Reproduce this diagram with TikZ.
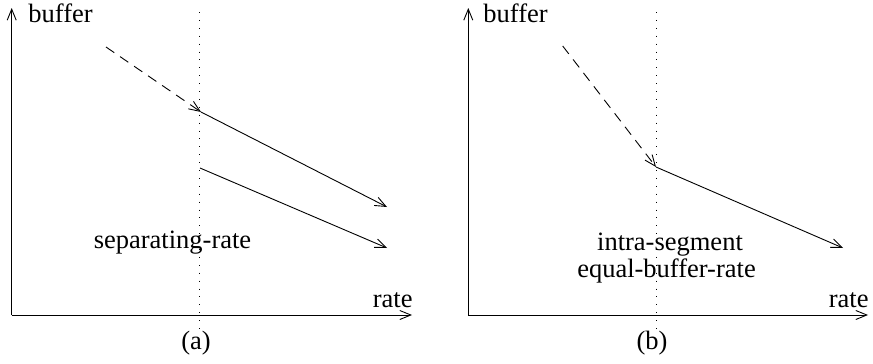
\documentclass[tikz,border=0pt]{standalone}
\usepackage{fontspec}
\setmainfont{Liberation Serif}
\usetikzlibrary{arrows.meta}
\tikzset{
  axis/.style={->},
  guide/.style={dash pattern=on 0.9pt off 7pt},
  prev/.style={->,dash pattern=on 10pt off 7pt},
  seg/.style={->},
  lab/.style={inner sep=0pt,anchor=base}
}
\begin{document}
\begin{tikzpicture}[x=1pt,y=-1pt,line width=0.9pt,
  >={Straight Barb[length=11pt,width=9pt]},
  font=\fontsize{26.5}{30}\selectfont]
  \useasboundingbox (0,0) rectangle (873,364);
  % (a) separating-rate
  \coordinate (oA) at (11.7,315);
  \coordinate (yA) at (11.7,8);
  \coordinate (xA) at (412,315);
  \draw[axis] (oA) -- (yA);
  \draw[axis] (oA) -- (xA);
  \coordinate (gA1) at (199.5,12);
  \coordinate (gA2) at (199.5,330);
  \draw[guide] (gA1) -- (gA2);
  \coordinate (dA) at (106,47);
  \coordinate (kA) at (201,112);
  \coordinate (eA1) at (387,207);
  \coordinate (sA) at (200,168);
  \coordinate (eA2) at (387,248);
  \draw[prev] (dA) -- (kA);
  \draw[seg] (kA) -- (eA1);
  \draw[seg] (sA) -- (eA2);
  \node[lab,anchor=base west] (bufA) at (28,22) {buffer};
  \node[lab,anchor=base east] (rateA) at (413,307) {rate};
  \node[lab] (sepA) at (172.5,248) {separating-rate};
  \node[lab] (capA) at (196,349) {(a)};
  % (b) intra-segment equal-buffer-rate
  \coordinate (oB) at (468.3,315);
  \coordinate (yB) at (468.3,8);
  \coordinate (xB) at (868,315);
  \draw[axis] (oB) -- (yB);
  \draw[axis] (oB) -- (xB);
  \coordinate (gB1) at (656.7,12);
  \coordinate (gB2) at (656.7,330);
  \draw[guide] (gB1) -- (gB2);
  \coordinate (dB) at (562.7,46);
  \coordinate (kB) at (656,167);
  \coordinate (eB) at (843,248);
  \draw[prev] (dB) -- (kB);
  \draw[seg] (kB) -- (eB);
  \node[lab,anchor=base west] (bufB) at (483,22) {buffer};
  \node[lab,anchor=base east] (rateB) at (869,307) {rate};
  \node[lab] (intB) at (670,250) {intra-segment};
  \node[lab] (eqB) at (666.5,277) {equal-buffer-rate};
  \node[lab] (capB) at (652,349) {(b)};
\end{tikzpicture}
\end{document}
